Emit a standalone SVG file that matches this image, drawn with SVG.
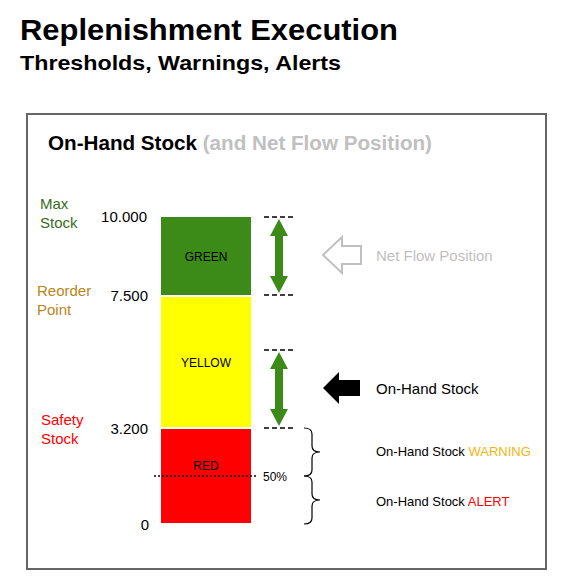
<svg xmlns="http://www.w3.org/2000/svg" width="575" height="581" viewBox="0 0 575 581">
<style>
text{font-family:"Liberation Sans",Arial,sans-serif}
.lbl{font-size:15px}
.num{font-size:15px;fill:#000;text-anchor:end}
.band{font-size:12px;fill:#000;text-anchor:middle}
.dash{stroke:#000;stroke-width:1.5;stroke-dasharray:5,3}
.brace{fill:none;stroke:#000;stroke-width:1.2}
.side{font-size:13px;fill:#000}
</style>
<rect width="575" height="581" fill="#fff"/>
<g id="title">
<text x="20" y="40" font-size="30" font-weight="bold" textLength="378" lengthAdjust="spacingAndGlyphs">Replenishment Execution</text>
<text x="20" y="70" font-size="21" font-weight="bold" textLength="321" lengthAdjust="spacingAndGlyphs">Thresholds, Warnings, Alerts</text>
</g>
<g id="frame">
<rect x="27" y="114" width="519" height="455" fill="none" stroke="#666" stroke-width="2"/>
<text x="48" y="150" font-size="20" font-weight="bold" textLength="384" lengthAdjust="spacingAndGlyphs">On-Hand Stock <tspan fill="#c0c0c0">(and Net Flow Position)</tspan></text>
</g>
<g id="left-labels">
<text class="lbl" x="40" y="209" fill="#386b1b">Max</text>
<text class="lbl" x="40" y="228" fill="#386b1b">Stock</text>
<text class="lbl" x="37" y="296" fill="#b8861a">Reorder</text>
<text class="lbl" x="37" y="315" fill="#b8861a">Point</text>
<text class="lbl" x="41" y="425" fill="#ff0000">Safety</text>
<text class="lbl" x="41" y="444" fill="#ff0000">Stock</text>
<text class="num" x="147" y="222">10.000</text>
<text class="num" x="148" y="301">7.500</text>
<text class="num" x="148" y="434">3.200</text>
<text class="num" x="149" y="530">0</text>
</g>
<g id="green">
<rect x="161" y="217" width="90" height="78" fill="#3c8a17"/>
<text class="band" x="206" y="261">GREEN</text>
</g>
<g id="yellow">
<rect x="161" y="297" width="90" height="130" fill="#ffff00"/>
<text class="band" x="206" y="367">YELLOW</text>
</g>
<g id="red">
<rect x="161" y="429" width="90" height="94" fill="#ff0000"/>
<text class="band" x="206" y="470">RED</text>
</g>
<g id="connectors">
<line class="dash" x1="264" y1="217" x2="294" y2="217"/>
<line class="dash" x1="264" y1="295" x2="294" y2="295"/>
<line class="dash" x1="264" y1="350" x2="294" y2="350"/>
<line class="dash" x1="264" y1="428" x2="294" y2="428"/>
<path d="M279 219 L288 236 L283 236 L283 276 L288 276 L279 293 L270 276 L275 276 L275 236 L270 236 Z" fill="#3c8a17"/>
<path d="M279 352 L288 369 L283 369 L283 409 L288 409 L279 426 L270 409 L275 409 L275 369 L270 369 Z" fill="#3c8a17"/>
<path d="M323 255 L342 237 L342 246 L361 246 L361 264 L342 264 L342 273 Z" fill="#fff" stroke="#c0c0c0" stroke-width="2"/>
<path d="M323 388 L339 372 L339 380 L360 380 L360 396 L339 396 L339 404 Z" fill="#000"/>
<line x1="154" y1="476" x2="258" y2="476" stroke="#000" stroke-width="1.5" stroke-dasharray="2,2"/>
<path class="brace" d="M304 428 Q312 428 312 434 L312 446 Q312 452 320 452 Q312 452 312 458 L312 470 Q312 476 304 476"/>
<path class="brace" d="M304 476 Q312 476 312 482 L312 494 Q312 500 320 500 Q312 500 312 506 L312 518 Q312 524 304 524"/>
</g>
<g id="right-labels">
<text x="376" y="261" font-size="15" fill="#bfbfbf">Net Flow Position</text>
<text x="376" y="394" font-size="15" fill="#000">On-Hand Stock</text>
<text x="263" y="481" font-size="12" fill="#000">50%</text>
<text class="side" x="376" y="456">On-Hand Stock <tspan fill="#f2b50f">WARNING</tspan></text>
<text class="side" x="376" y="506">On-Hand Stock <tspan fill="#ff0000">ALERT</tspan></text>
</g>
</svg>
